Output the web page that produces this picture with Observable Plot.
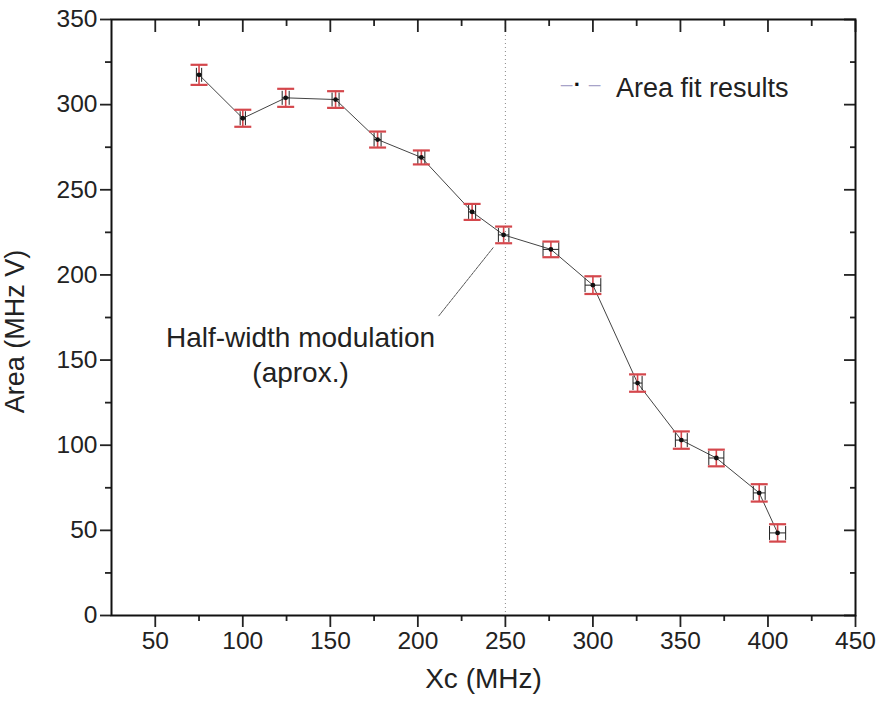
<!DOCTYPE html>
<html><head><meta charset="utf-8">
<script src="https://cdn.jsdelivr.net/npm/d3@7"></script>
<script src="https://cdn.jsdelivr.net/npm/@observablehq/plot@0.6"></script>
<style>body{margin:0;background:#fff;} #chart{width:882px;height:706px;}</style>
</head><body><div id="chart"></div>
<script>
// Data
const xc      = [75, 100, 124.5, 153, 177, 202, 231, 249, 276, 300, 325.5, 350.5, 370.5, 395, 405.5];
const area    = [317.5, 292, 304, 303, 279.5, 269, 237, 223.5, 215, 194, 136.5, 103, 92.5, 72, 48.5];
const areaErr = [5.9, 5.0, 5.3, 4.9, 4.7, 4.1, 4.7, 4.9, 4.6, 5.2, 5.1, 5.1, 4.9, 5.1, 5.1];
const xcErr   = [1.5, 1.5, 2.0, 2.0, 2.0, 2.0, 2.0, 3.0, 4.5, 4.5, 2.6, 3.4, 4.3, 3.4, 4.6];

const xMajorTicks = [50, 100, 150, 200, 250, 300, 350, 400, 450];
const xMinorTicks = [75, 125, 175, 225, 275, 325, 375, 425];
const yMajorTicks = [0, 50, 100, 150, 200, 250, 300, 350];
const yMinorTicks = [25, 75, 125, 175, 225, 275, 325];

const markerX = [250];
const annotationLine = [{x: 212, y: 176}, {x: 243, y: 216}];
const annotationText = [{x: 133, y: 154, text: "Half-width modulation\n(aprox.)"}];
const legendLabel = ["Area fit results"];
const xLabel = ["Xc (MHz)"];
const yLabel = ["Area (MHz V)"];

const data = xc.map((x, i) => ({x, y: area[i], ey: areaErr[i], ex: xcErr[i]}));

const red = "#d4474c";
const lavender = "#a7a3c9";
const hcap = {draw(ctx, size) { const w = Math.sqrt(size / Math.PI); ctx.moveTo(-w, 0); ctx.lineTo(w, 0); }};
const vcap = {draw(ctx, size) { const w = Math.sqrt(size / Math.PI); ctx.moveTo(0, -w); ctx.lineTo(0, w); }};
const noLabel = () => "";

const chart = Plot.plot({
  width: 882,
  height: 706,
  marginLeft: 111,
  marginRight: 27,
  marginTop: 19,
  marginBottom: 91,
  style: {fontFamily: "'Liberation Sans', Arial, sans-serif", fontSize: "24px", color: "#222", background: "#fff"},
  x: {domain: [25, 450]},
  y: {domain: [0, 350]},
  marks: [
    // reference vertical dotted line
    Plot.ruleX(markerX, {stroke: "#888", strokeWidth: 1, strokeDasharray: "1,3"}),
    // annotation leader line
    Plot.line(annotationLine, {x: "x", y: "y", stroke: "#444", strokeWidth: 0.9, strokeDasharray: "3,1"}),
    Plot.text(annotationText, {x: "x", y: "y", text: "text", fontSize: 28, lineHeight: 1.27, fill: "#222", textAnchor: "middle"}),
    // connecting line
    Plot.line(data, {x: "x", y: "y", stroke: "#444", strokeWidth: 1}),
    // x error bars (black)
    Plot.link(data, {x1: d => d.x - d.ex, x2: d => d.x + d.ex, y1: "y", y2: "y", stroke: "#222", strokeWidth: 1}),
    Plot.dot(data, {x: d => d.x - d.ex, y: "y", symbol: vcap, r: 7, stroke: "#222", strokeWidth: 1}),
    Plot.dot(data, {x: d => d.x + d.ex, y: "y", symbol: vcap, r: 7, stroke: "#222", strokeWidth: 1}),
    // y error bars (red)
    Plot.ruleX(data, {x: "x", y1: d => d.y - d.ey, y2: d => d.y + d.ey, stroke: red, strokeWidth: 1.6}),
    Plot.dot(data, {x: "x", y: d => d.y + d.ey, symbol: hcap, r: 8.5, stroke: red, strokeWidth: 2.2}),
    Plot.dot(data, {x: "x", y: d => d.y - d.ey, symbol: hcap, r: 8.5, stroke: red, strokeWidth: 2.2}),
    // data points
    Plot.dot(data, {x: "x", y: "y", r: 2.4, fill: "#111", stroke: null}),
    // axes: bottom/left outward with labels, top/right inward
    Plot.axisX(xMajorTicks, {anchor: "bottom", tickSize: 12, tickPadding: 4, strokeWidth: 1.8, label: null, fontSize: 24.5}),
    Plot.axisX(xMinorTicks, {anchor: "bottom", tickSize: 6, strokeWidth: 1.8, tickFormat: noLabel, label: null}),
    Plot.axisX(xMajorTicks, {anchor: "top", tickSize: -12, strokeWidth: 1.8, tickFormat: noLabel, label: null}),
    Plot.axisX(xMinorTicks, {anchor: "top", tickSize: -6, strokeWidth: 1.8, tickFormat: noLabel, label: null}),
    Plot.axisY(yMajorTicks, {anchor: "left", tickSize: 11, tickPadding: 3, strokeWidth: 1.8, label: null, fontSize: 24.5}),
    Plot.axisY(yMinorTicks, {anchor: "left", tickSize: 6, strokeWidth: 1.8, tickFormat: noLabel, label: null}),
    Plot.axisY(yMajorTicks, {anchor: "right", tickSize: -12, strokeWidth: 1.8, tickFormat: noLabel, label: null}),
    Plot.axisY(yMinorTicks, {anchor: "right", tickSize: -6, strokeWidth: 1.8, tickFormat: noLabel, label: null}),
    Plot.frame({stroke: "#111", strokeWidth: 2}),
    // axis titles
    Plot.text(xLabel, {frameAnchor: "bottom", dy: 72, textAnchor: "middle", fontSize: 28, fill: "#222"}),
    Plot.text(yLabel, {frameAnchor: "left", dx: -96, dy: 14, rotate: -90, textAnchor: "middle", fontSize: 27, fill: "#222"}),
    // legend
    Plot.text(legendLabel, {frameAnchor: "top-right", dx: -67, dy: 58, textAnchor: "end", fontSize: 27, fill: "#222"}),
    Plot.text(["–"], {frameAnchor: "top-right", dx: -289, dy: 57, textAnchor: "middle", fontSize: 21, fill: lavender}),
    Plot.text(["·"], {frameAnchor: "top-right", dx: -278, dy: 57, textAnchor: "middle", fontSize: 22, fontWeight: "bold", fill: "#111"}),
    Plot.text(["–"], {frameAnchor: "top-right", dx: -261, dy: 57, textAnchor: "middle", fontSize: 21, fill: lavender})
  ]
});
document.getElementById("chart").appendChild(chart);
</script>
</body></html>
